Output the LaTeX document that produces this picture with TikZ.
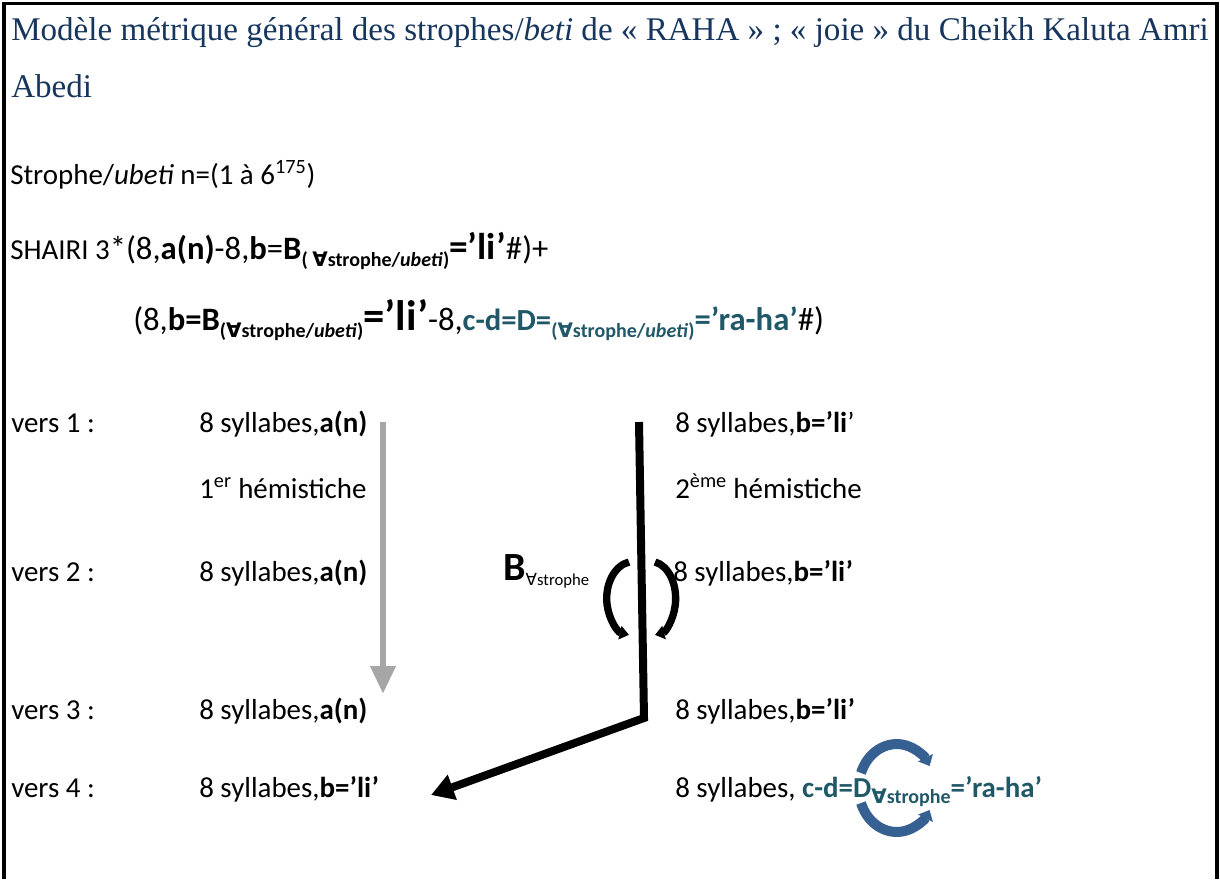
\documentclass[tikz,border=0pt]{standalone}
\usepackage{fontspec}
\setmainfont{Carlito}
\newfontfamily\titlefont{Liberation Serif}
\newfontfamily\symfont{DejaVu Sans}
\usepackage{xcolor}
\usepackage{tikz}
\usetikzlibrary{arrows.meta}
\definecolor{titleblue}{RGB}{23,54,93}
\definecolor{tealtext}{RGB}{33,88,104}
\definecolor{turnblue}{RGB}{55,96,146}
\definecolor{arrowgrey}{RGB}{166,166,166}
\newcommand{\fa}{{\symfont ∀}}
\newcommand{\formfont}{\fontsize{24.5}{29}\selectfont}
\newcommand{\lowsub}[1]{\raisebox{-0.45ex}{\fontsize{15}{18}\selectfont #1}}
\newcommand{\bigpart}[2]{{\fontsize{#1}{30}\selectfont\bfseries #2}}

\begin{document}
\begin{tikzpicture}[x=0.75pt, y=-0.75pt,
 every node/.style={inner sep=0pt, anchor=base west, font=\fontsize{21.7}{26}\selectfont},
 titletext/.style={font=\titlefont\fontsize{24.8}{29}\selectfont, text=titleblue},
 frameline/.style={line width=2.3pt},
 greyarrow/.style={draw=arrowgrey, line width=5.2pt, -{Triangle[length=21pt,width=18pt]}},
 blackarrow/.style={draw=black, line width=6pt, -{Triangle[length=17pt,width=19pt]}},
 turnarrow/.style={draw=black, line width=5.5pt, -{Triangle[length=7pt,width=10pt]}},
 bluearrow/.style={draw=turnblue, line width=7.5pt, -{Triangle[length=7pt,width=12pt]}}]
\useasboundingbox (0,0) rectangle (1220,879);
\draw[frameline] (4,879) |- (1217,3.5) -- (1217,879);
\node[titletext] (title) at (11,40) {Modèle métrique général des strophes/\textit{beti} de « RAHA » ; « joie » du Cheikh Kaluta Amri};
\node[titletext] (abedi) at (11,97) {Abedi};
\node (strophe) at (10,184) {Strophe/\textit{ubeti} n=(1 à 6\textsuperscript{175})};
\node (shairi) at (10,259) {SHAIRI 3{\formfont *(8,\textbf{a(n)}-8,\textbf{b}=\textbf{B}\lowsub{\textbf{( \fa strophe/\textit{ubeti})}}\bigpart{28}{=’li’}\#)+}};
\node (shairitwo) at (133,330) {\formfont (8,\textbf{b=B}\lowsub{\textbf{(\fa strophe/\textit{ubeti})}}\bigpart{32}{=’li’}-8,{\color{tealtext}\bigpart{23}{c-d=D=}\lowsub{\textbf{(\fa strophe/\textit{ubeti})}}\bigpart{24.5}{=’ra-ha’}}\#)};
\node (v1) at (11,432) {vers 1 :};
\node (v1a) at (199,432) {8 syllabes,\textbf{a(n)}};
\node (v1b) at (675,432) {8 syllabes,\textbf{b=’li}’};
\node (h1) at (199,498) {1\textsuperscript{er} hémistiche};
\node (h2) at (675,498) {2\textsuperscript{ème} hémistiche};
\node (v2) at (11,581) {vers 2 :};
\node (v2a) at (199,581) {8 syllabes,\textbf{a(n)}};
\node (bsym) at (503,580) {\fontsize{30}{34}\selectfont\textbf{B}\raisebox{-0.3ex}{\fontsize{12.5}{14}\selectfont\fa strophe}};
\node (v2b) at (673,581) {8 syllabes,\textbf{b=’li’}};
\node (v3) at (11,719) {vers 3 :};
\node (v3a) at (199,719) {8 syllabes,\textbf{a(n)}};
\node (v3b) at (675,719) {8 syllabes,\textbf{b=’li’}};
\node (v4) at (11,797) {vers 4 :};
\node (v4a) at (199,797) {8 syllabes,\textbf{b=’li’}};
\coordinate (gtop) at (383,422);
\coordinate (gend) at (383,694);
\coordinate (ktop) at (639,422);
\coordinate (kbend) at (644,718);
\coordinate (ktip) at (431,795);
\coordinate (lturn) at (629,562);
\coordinate (rturn) at (655,562);
\coordinate (uturn) at (861,773);
\coordinate (dturn) at (861,803);
\draw[greyarrow] (gtop) -- (gend);
\draw[blackarrow] (ktop) -- (kbend) -- (ktip);
\draw[turnarrow] (lturn) arc[start angle=-100, end angle=-260, x radius=27, y radius=37];
\draw[turnarrow] (rturn) arc[start angle=-80, end angle=80, x radius=25, y radius=37];
\draw[bluearrow] (uturn) arc[start angle=-160, end angle=-30, x radius=38, y radius=44];
\draw[bluearrow] (dturn) arc[start angle=160, end angle=30, x radius=38, y radius=44];
\node (v4b) at (675,797) {8 syllabes, {\color{tealtext}\bfseries c-d=D\lowsub{\fa strophe}=’ra-ha’}};
\end{tikzpicture}
\end{document}
